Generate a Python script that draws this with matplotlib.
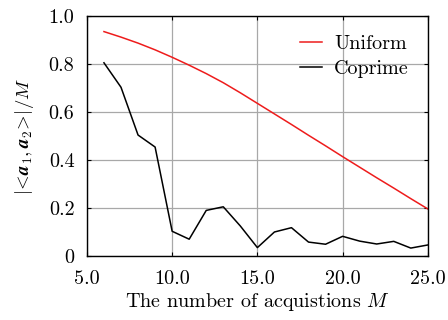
import numpy as np
import matplotlib
matplotlib.use("Agg")
import matplotlib.pyplot as plt
from matplotlib.ticker import FixedFormatter

plt.rcParams['font.family'] = 'serif'
plt.rcParams['font.serif'] = ['cmr10']
plt.rcParams['mathtext.fontset'] = 'cm'
plt.rcParams['axes.formatter.use_mathtext'] = True

# number of acquisitions
M = list(range(6, 26))

uniform = [0.935, 0.912, 0.887, 0.859, 0.828, 0.795, 0.760, 0.722, 0.680, 0.636,
           0.592, 0.548, 0.503, 0.459, 0.414, 0.370, 0.326, 0.283, 0.239, 0.196]
coprime = [0.805, 0.703, 0.504, 0.454, 0.103, 0.070, 0.190, 0.205, 0.125, 0.035,
           0.100, 0.118, 0.058, 0.049, 0.082, 0.062, 0.050, 0.061, 0.033, 0.046]

xticks = [5, 10, 15, 20, 25]
xlabels = ['5.0', '10.0', '15.0', '20.0', '25.0']
yticks = [0, 0.2, 0.4, 0.6, 0.8, 1.0]
ylabels = ['0', '0.2', '0.4', '0.6', '0.8', '1.0']

fs = 14.5

fig = plt.figure(figsize=(4.48, 3.2), dpi=100)
ax = fig.add_axes([0.194, 0.2, 0.761, 0.75])

ax.plot(M, uniform, color='#ee1c1c', lw=1.1, label='Uniform')
ax.plot(M, coprime, color='black', lw=1.1, label='Coprime')

ax.set_xlim(5, 25)
ax.set_ylim(0, 1.0)
ax.set_xticks(xticks)
ax.xaxis.set_major_formatter(FixedFormatter(xlabels))
ax.set_yticks(yticks)
ax.yaxis.set_major_formatter(FixedFormatter(ylabels))
ax.grid(True, color='#a8a8a8', lw=0.9)
ax.tick_params(direction='in', top=True, right=True, length=3, labelsize=fs)
ax.tick_params(axis='x', pad=10)
ax.tick_params(axis='y', pad=9)
for s in ax.spines.values():
    s.set_linewidth(1.0)

ax.set_xlabel('The number of acquistions $M$', fontsize=fs, labelpad=2)
ax.set_ylabel(r'$|\!<\!\boldsymbol{a}_1,\boldsymbol{a}_2\!>\!|/M$', fontsize=13.5, labelpad=9)

ax.legend(loc='upper right', frameon=False, fontsize=fs, handlelength=1.1,
          handletextpad=0.6, labelspacing=0.35, borderaxespad=0.55)

fig.savefig('out.png', dpi=100)
